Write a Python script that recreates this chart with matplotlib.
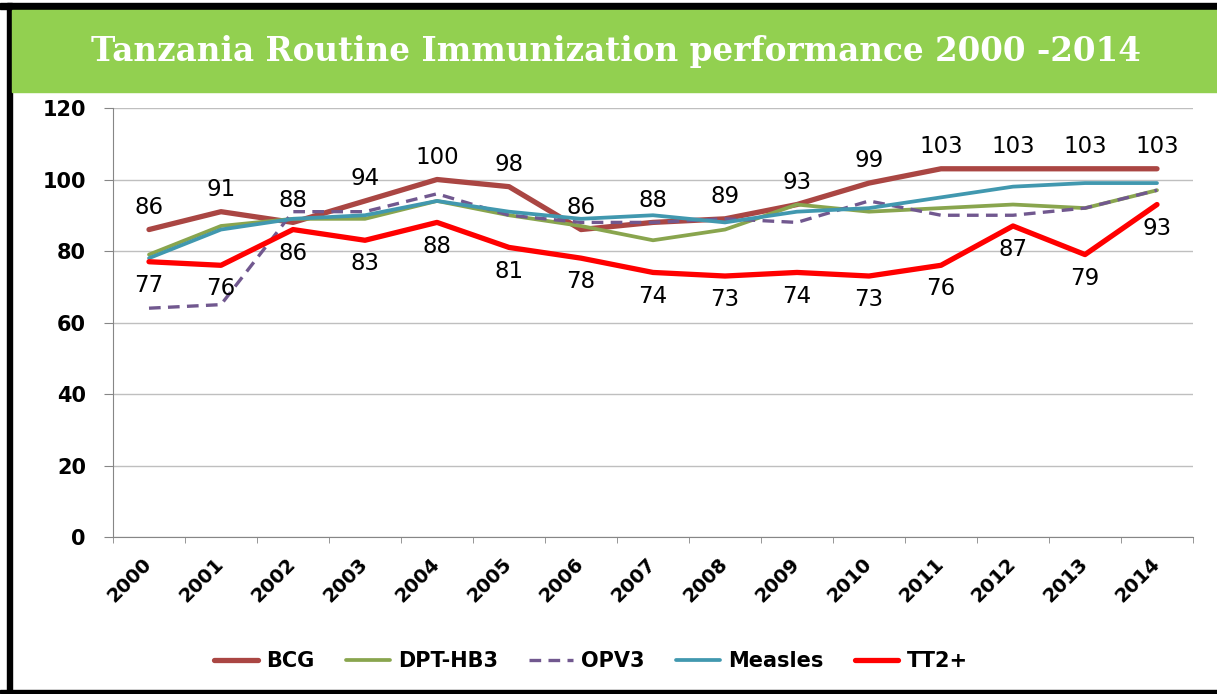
import matplotlib.pyplot as plt
from matplotlib.patches import Rectangle

years = [str(y) for y in range(2000, 2015)]
bcg = [86, 91, 88, 94, 100, 98, 86, 88, 89, 93, 99, 103, 103, 103, 103]
dpt = [79, 87, 89, 89, 94, 90, 87, 83, 86, 93, 91, 92, 93, 92, 97]
opv3 = [64, 65, 91, 91, 96, 90, 88, 88, 89, 88, 94, 90, 90, 92, 97]
measles = [78, 86, 89, 90, 94, 91, 89, 90, 88, 91, 92, 95, 98, 99, 99]
tt2 = [77, 76, 86, 83, 88, 81, 78, 74, 73, 74, 73, 76, 87, 79, 93]

W, H = 1217, 694
fig = plt.figure(figsize=(W / 100, H / 100), dpi=100)

def fx(px):
    return px / W

def fy(py):
    return 1 - py / H

# frame and title band
fig.add_artist(Rectangle((fx(0), fy(9)), 1, fy(3) - fy(9), transform=fig.transFigure,
                         color='black', zorder=0))
fig.add_artist(Rectangle((fx(7), fy(694)), fx(12) - fx(7), fy(3) - fy(694),
                         transform=fig.transFigure, color='black', zorder=0))
fig.add_artist(Rectangle((fx(0), fy(693)), 1, fy(690) - fy(693), transform=fig.transFigure,
                         color='black', zorder=0))
fig.add_artist(Rectangle((fx(12), fy(92)), 1, fy(10) - fy(92), transform=fig.transFigure,
                         color='#92D050', zorder=0))
fig.text(fx(616), fy(51), 'Tanzania Routine Immunization performance 2000 -2014',
         color='white', fontsize=23.5, fontweight='bold', family='DejaVu Serif',
         ha='center', va='center')

ax = fig.add_axes([fx(113), fy(537), fx(1193) - fx(113), fy(108) - fy(537)])
x = list(range(len(years)))

ax.plot(x, bcg, color='#AA4643', lw=3.8, label='BCG', solid_capstyle='round')
ax.plot(x, dpt, color='#89A54E', lw=2.7, label='DPT-HB3', solid_capstyle='round')
ax.plot(x, opv3, color='#71588F', lw=2.4, ls=(0, (3.5, 2.2)), label='OPV3')
ax.plot(x, measles, color='#4198AF', lw=2.7, label='Measles', solid_capstyle='round')
ax.plot(x, tt2, color='#FF0000', lw=3.8, label='TT2+', solid_capstyle='round')

for i in x:
    ax.annotate(str(bcg[i]), (i, bcg[i]), xytext=(0, 16), textcoords='offset points',
                ha='center', va='center', fontsize=16.5, color='black')
    ax.annotate(str(tt2[i]), (i, tt2[i]), xytext=(0, -17), textcoords='offset points',
                ha='center', va='center', fontsize=16.5, color='black')

ax.set_xlim(-0.5, len(years) - 0.5)
ax.set_ylim(0, 120)
ax.set_yticks(range(0, 121, 20))
ax.yaxis.grid(True, color='#BFBFBF', lw=1)
ax.set_axisbelow(True)
for s in ['top', 'right']:
    ax.spines[s].set_visible(False)
for s in ['left', 'bottom']:
    ax.spines[s].set_color('#868686')

ax.tick_params(axis='y', length=6.5, color='#868686', pad=13, labelsize=15)
for lbl in ax.get_yticklabels():
    lbl.set_fontweight('bold')

ax.set_xticks(x)
ax.set_xticklabels(years, rotation=45, ha='right', va='center', rotation_mode='anchor',
                   fontsize=14, fontweight='bold')
ax.tick_params(axis='x', which='major', length=0, pad=17)
ax.set_xticks([i - 0.5 for i in range(len(years) + 1)], minor=True)
ax.tick_params(axis='x', which='minor', length=4, color='#868686')

ax.legend(loc='center', bbox_to_anchor=(fx(591), fy(661)), bbox_transform=fig.transFigure,
          ncol=5, frameon=False, handlelength=2.1, handletextpad=0.4, columnspacing=1.5,
          prop={'weight': 'bold', 'size': 15})

fig.savefig('out.png', dpi=100)
